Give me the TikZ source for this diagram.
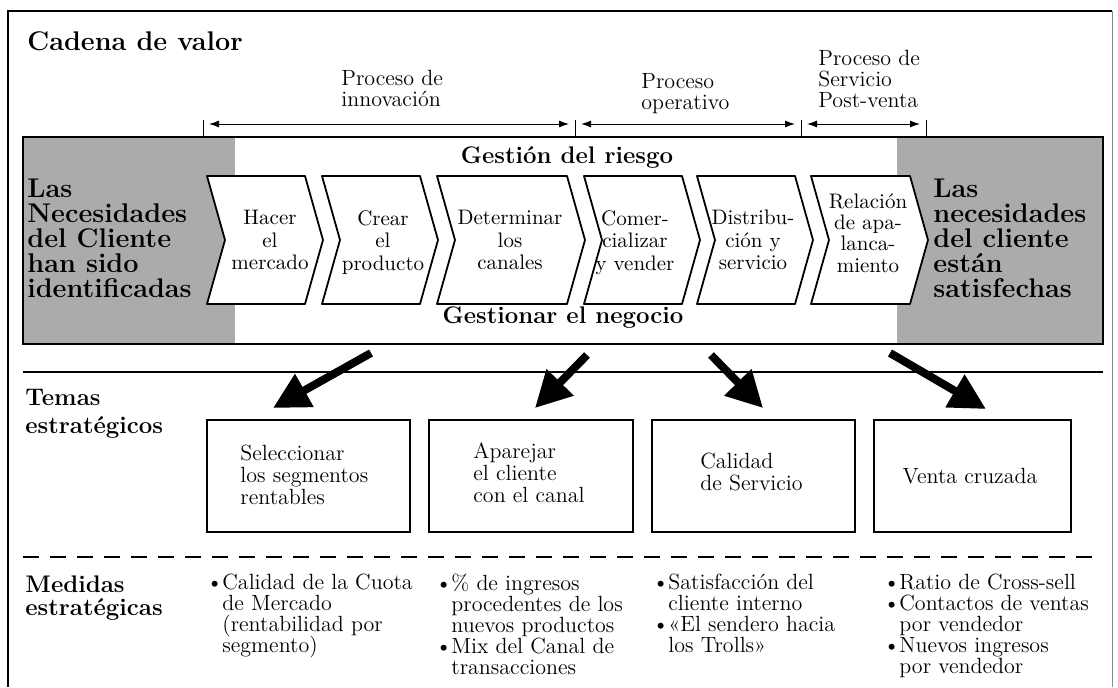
\documentclass[tikz,border=0pt]{standalone}
\usepackage{tikz}
\usetikzlibrary{arrows.meta}

\newcommand{\medbul}{\makebox[8pt][l]{\textbullet}}
\newcommand{\medind}{\hspace*{8pt}}

\begin{document}
\begin{tikzpicture}[x=0.5pt, y=-0.5pt, >=Latex,
    grayzone/.style={fill=black!33},
    headline/.style={font=\fontsize{13.5}{15}\selectfont\bfseries, anchor=north west, inner sep=0},
    proc/.style={font=\fontsize{11}{10.5}\selectfont, align=left, anchor=north west, inner sep=0},
    brk/.style={{Latex[length=5pt,width=3.5pt]}-{Latex[length=5pt,width=3.5pt]}, line width=0.5pt, shorten <=3pt, shorten >=3pt},
    tickmark/.style={line width=0.5pt},
    bandhead/.style={font=\fontsize{12}{13}\selectfont\bfseries, anchor=north, inner sep=0},
    need/.style={font={\fontsize{13.5}{12.5}\selectfont\bfseries\lineskiplimit=-3pt}, align=left, anchor=north west, inner sep=0},
    chev/.style={draw, fill=white, line width=0.9pt, line join=round},
    chevtxt/.style={font=\fontsize{10.5}{11.25}\selectfont, align=center, anchor=north, inner sep=0},
    sect/.style={font=\fontsize{12}{14}\selectfont\bfseries, align=left, anchor=north west, inner sep=0},
    tema/.style={draw, line width=0.7pt, minimum height=56pt, inner sep=0},
    tematxt/.style={font=\fontsize{11}{11}\selectfont, align=left, anchor=north west, inner sep=0},
    bigarrow/.style={-{Triangle[length=18pt,width=18pt]}, line width=4pt},
    medida/.style={font={\fontsize{11}{10.5}\selectfont\lineskiplimit=-3pt}, align=left, anchor=north west, inner sep=0},
  ]
  \useasboundingbox (0,0) rectangle (1118,687);
  \draw[line width=0.8pt] (8,687) -- (8,11) -- (1112,11);
  \draw[line width=0.5pt, black!45] (1112,11) -- (1112,687);

  \node[headline] (cadena) at (27,31) {Cadena de valor};

  \node[proc] (innov) at (341,70) {Proceso de\\innovación};
  \node[proc] (oper)  at (641,73) {Proceso\\operativo};
  \node[proc] (postv) at (818,50) {Proceso de\\Servicio\\Post-venta};

  \coordinate (k0) at (203,124);
  \coordinate (k1) at (575,124);
  \coordinate (k2) at (801,124);
  \coordinate (k3) at (926,124);
  \foreach \k in {k0,k1,k2,k3}
    \draw[tickmark] (\k) ++(0,-4) -- ++(0,17);
  \draw[brk] (k0) -- (k1);
  \draw[brk] (k1) -- (k2);
  \draw[brk] (k2) -- (k3);

  \fill[grayzone] (23,137) rectangle (235,344);
  \fill[grayzone] (897,137) rectangle (1103,344);
  \draw[line width=0.8pt] (23,137) rectangle (1103,344);

  \foreach \l/\r in {207/305, 322/420, 437/567, 584/682, 697/795, 811/910}
    \draw[chev] (\l,176) -- (\r,176) -- (\r+18,240) -- (\r,304) -- (\l,304) -- (\l+18,240) -- cycle;

  \node[bandhead] (riesgo)  at (567,146) {Gestión del riesgo};
  \node[bandhead] (negocio) at (563,306) {Gestionar el negocio};

  \node[need] (needin)  at (27,179)  {Las\\Necesidades\\del Cliente\\han sido\\identificadas};
  \node[need] (needout) at (933,179) {Las\\necesidades\\del cliente\\están\\satisfechas};

  \node[chevtxt] (hacer)      at (270,210) {Hacer\\el\\mercado};
  \node[chevtxt] (crear)      at (383,210) {Crear\\el\\producto};
  \node[chevtxt] (determinar) at (510,210) {Determinar\\los\\canales};
  \node[chevtxt] (comer)      at (635,210) {Comer-\\cializar\\y vender};
  \node[chevtxt] (distrib)    at (753,210) {Distribu-\\ción y\\servicio};
  \node[chevtxt, font=\fontsize{10.5}{10.7}\selectfont] (relacion) at (868,193) {Relación\\de apa-\\lanca-\\miento};

  \draw[line width=0.8pt] (23,372) -- (1103,372);

  \node[sect] (temas) at (25,389) {Temas\\estratégicos};

  \node[tema, minimum width=101.5pt] (sel)  at (308.5,476) {};
  \node[tema, minimum width=102pt]   (apa)  at (531,476)   {};
  \node[tema, minimum width=101.5pt] (cal)  at (753.5,476) {};
  \node[tema, minimum width=98.5pt]  (cruz) at (972.5,476) {};

  \node[tematxt] (seltxt) at (240,445) {Seleccionar\\los segmentos\\rentables};
  \node[tematxt] (apatxt) at (473,442) {Aparejar\\el cliente\\con el canal};
  \node[tematxt] (caltxt) at (700,453) {Calidad\\de Servicio};
  \node[tematxt, anchor=north, align=center] (cruztxt) at (970,468) {Venta cruzada};

  \coordinate (a1) at (371,353);
  \coordinate (b1) at (273,408);
  \coordinate (a2) at (587,355);
  \coordinate (b2) at (535,408);
  \coordinate (a3) at (711,355);
  \coordinate (b3) at (763,408);
  \coordinate (a4) at (890,353);
  \coordinate (b4) at (986,409);
  \draw[bigarrow] (a1) -- (b1);
  \draw[bigarrow] (a2) -- (b2);
  \draw[bigarrow] (a3) -- (b3);
  \draw[bigarrow] (a4) -- (b4);

  \draw[line width=0.9pt, dash pattern=on 8pt off 5.5pt] (23,557) -- (1100,557);

  \node[sect, font=\fontsize{12}{11.5}\selectfont\bfseries] (medidas) at (25,575) {Medidas\\estratégicas};

  \node[medida] (cuota)   at (206,574) {\medbul Calidad de la Cuota\\\medind de Mercado\\\medind (rentabilidad por\\\medind segmento)};
  \node[medida] (ingreso) at (435,574) {\medbul \% de ingresos\\\medind procedentes de los\\\medind nuevos productos\\\medbul Mix del Canal de\\\medind transacciones};
  \node[medida] (satisf)  at (652,574) {\medbul Satisfacción del\\\medind cliente interno\\\medbul «El sendero hacia\\\medind los Trolls»};
  \node[medida] (ratio)   at (883,574) {\medbul Ratio de Cross-sell\\\medbul Contactos de ventas\\\medind por vendedor\\\medbul Nuevos ingresos\\\medind por vendedor};
\end{tikzpicture}
\end{document}
